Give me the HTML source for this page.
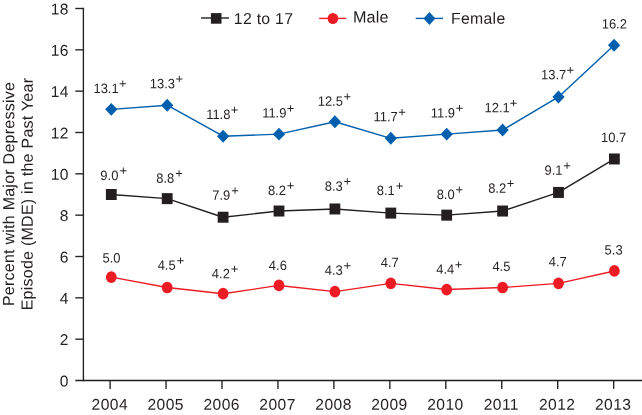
<!DOCTYPE html>
<html lang="en"><head><meta charset="utf-8"><title>Percent with Major Depressive Episode (MDE) in the Past Year</title>
<style>html,body{margin:0;padding:0;background:#fff;}body{width:642px;height:415px;overflow:hidden;}svg{display:block;font-family:"Liberation Sans",sans-serif;}</style></head><body>
<svg width="642" height="415" viewBox="0 0 642 415">
<rect width="642" height="415" fill="#fff"/>
<g stroke="#231f20" stroke-width="1.35" fill="none">
<path d="M83.4 7.84V381.15"/>
<path d="M75.3 380.50H642"/>
<path d="M75.3 339.17H83.3"/>
<path d="M75.3 297.83H83.3"/>
<path d="M75.3 256.50H83.3"/>
<path d="M75.3 215.16H83.3"/>
<path d="M75.3 173.83H83.3"/>
<path d="M75.3 132.50H83.3"/>
<path d="M75.3 91.16H83.3"/>
<path d="M75.3 49.83H83.3"/>
<path d="M75.3 8.49H83.3"/>
<path d="M110.10 380.50V388.9"/>
<path d="M166.05 380.50V388.9"/>
<path d="M222.00 380.50V388.9"/>
<path d="M277.95 380.50V388.9"/>
<path d="M333.90 380.50V388.9"/>
<path d="M389.85 380.50V388.9"/>
<path d="M445.80 380.50V388.9"/>
<path d="M501.75 380.50V388.9"/>
<path d="M557.70 380.50V388.9"/>
<path d="M613.65 380.50V388.9"/>
</g>
<g fill="#231f20" font-size="15.6" letter-spacing="0.4" text-anchor="end">
<text transform="translate(68.8 386.40) rotate(0.03)">0</text>
<text transform="translate(68.8 345.07) rotate(0.03)">2</text>
<text transform="translate(68.8 303.73) rotate(0.03)">4</text>
<text transform="translate(68.8 262.40) rotate(0.03)">6</text>
<text transform="translate(68.8 221.06) rotate(0.03)">8</text>
<text transform="translate(68.8 179.73) rotate(0.03)">10</text>
<text transform="translate(68.8 138.40) rotate(0.03)">12</text>
<text transform="translate(68.8 97.06) rotate(0.03)">14</text>
<text transform="translate(68.8 55.73) rotate(0.03)">16</text>
<text transform="translate(68.8 14.39) rotate(0.03)">18</text>
</g>
<g fill="#231f20" font-size="15.6" letter-spacing="0.45" text-anchor="middle">
<text transform="translate(109.80 409.8) rotate(0.03)">2004</text>
<text transform="translate(165.73 409.8) rotate(0.03)">2005</text>
<text transform="translate(221.66 409.8) rotate(0.03)">2006</text>
<text transform="translate(277.59 409.8) rotate(0.03)">2007</text>
<text transform="translate(333.52 409.8) rotate(0.03)">2008</text>
<text transform="translate(389.45 409.8) rotate(0.03)">2009</text>
<text transform="translate(445.38 409.8) rotate(0.03)">2010</text>
<text transform="translate(501.31 409.8) rotate(0.03)">2011</text>
<text transform="translate(557.24 409.8) rotate(0.03)">2012</text>
<text transform="translate(613.17 409.8) rotate(0.03)">2013</text>
</g>
<g fill="#231f20" font-size="16" letter-spacing="0.25">
<text transform="translate(14.1 306.1) rotate(-89.97)">Percent with Major Depressive</text>
<text transform="translate(32.6 310.3) rotate(-89.97)">Episode (MDE) in the Past Year</text>
</g>
<polyline points="111.30,109.36 167.20,105.23 223.10,136.23 279.00,134.16 334.90,121.76 390.80,138.30 446.70,134.16 502.60,130.03 558.50,96.96 614.10,45.29" fill="none" stroke="#0060ae" stroke-width="1.4" stroke-linejoin="round"/>
<polyline points="111.30,194.50 167.20,198.63 223.10,217.23 279.00,211.03 334.90,208.96 390.80,213.10 446.70,215.16 502.60,211.03 558.50,192.43 614.40,158.96" fill="none" stroke="#231f20" stroke-width="1.4" stroke-linejoin="round"/>
<polyline points="111.30,277.16 167.20,287.50 223.10,293.70 279.00,285.43 334.90,291.63 390.80,283.37 446.70,289.57 502.60,287.50 558.50,283.37 614.40,270.96" fill="none" stroke="#ed1c24" stroke-width="1.4" stroke-linejoin="round"/>
<path d="M111.30 102.91L117.45 109.36L111.30 115.81L105.15 109.36Z" fill="#0060ae"/>
<path d="M167.20 98.78L173.35 105.23L167.20 111.68L161.05 105.23Z" fill="#0060ae"/>
<path d="M223.10 129.78L229.25 136.23L223.10 142.68L216.95 136.23Z" fill="#0060ae"/>
<path d="M279.00 127.71L285.15 134.16L279.00 140.61L272.85 134.16Z" fill="#0060ae"/>
<path d="M334.90 115.31L341.05 121.76L334.90 128.21L328.75 121.76Z" fill="#0060ae"/>
<path d="M390.80 131.85L396.95 138.30L390.80 144.75L384.65 138.30Z" fill="#0060ae"/>
<path d="M446.70 127.71L452.85 134.16L446.70 140.61L440.55 134.16Z" fill="#0060ae"/>
<path d="M502.60 123.58L508.75 130.03L502.60 136.48L496.45 130.03Z" fill="#0060ae"/>
<path d="M558.50 90.51L564.65 96.96L558.50 103.41L552.35 96.96Z" fill="#0060ae"/>
<path d="M614.10 38.84L620.25 45.29L614.10 51.74L607.95 45.29Z" fill="#0060ae"/>
<rect x="105.90" y="189.00" width="10.8" height="11.0" fill="#231f20"/>
<rect x="161.80" y="193.13" width="10.8" height="11.0" fill="#231f20"/>
<rect x="217.70" y="211.73" width="10.8" height="11.0" fill="#231f20"/>
<rect x="273.60" y="205.53" width="10.8" height="11.0" fill="#231f20"/>
<rect x="329.50" y="203.46" width="10.8" height="11.0" fill="#231f20"/>
<rect x="385.40" y="207.60" width="10.8" height="11.0" fill="#231f20"/>
<rect x="441.30" y="209.66" width="10.8" height="11.0" fill="#231f20"/>
<rect x="497.20" y="205.53" width="10.8" height="11.0" fill="#231f20"/>
<rect x="553.10" y="186.93" width="10.8" height="11.0" fill="#231f20"/>
<rect x="609.00" y="153.46" width="10.8" height="11.0" fill="#231f20"/>
<ellipse cx="111.30" cy="277.16" rx="5.4" ry="5.85" fill="#ed1c24"/>
<ellipse cx="167.20" cy="287.50" rx="5.4" ry="5.85" fill="#ed1c24"/>
<ellipse cx="223.10" cy="293.70" rx="5.4" ry="5.85" fill="#ed1c24"/>
<ellipse cx="279.00" cy="285.43" rx="5.4" ry="5.85" fill="#ed1c24"/>
<ellipse cx="334.90" cy="291.63" rx="5.4" ry="5.85" fill="#ed1c24"/>
<ellipse cx="390.80" cy="283.37" rx="5.4" ry="5.85" fill="#ed1c24"/>
<ellipse cx="446.70" cy="289.57" rx="5.4" ry="5.85" fill="#ed1c24"/>
<ellipse cx="502.60" cy="287.50" rx="5.4" ry="5.85" fill="#ed1c24"/>
<ellipse cx="558.50" cy="283.37" rx="5.4" ry="5.85" fill="#ed1c24"/>
<ellipse cx="614.40" cy="270.96" rx="5.4" ry="5.85" fill="#ed1c24"/>
<g fill="#231f20" font-size="13.3">
<text transform="translate(106.05 93.00) rotate(0.03) scale(0.975 1.015)" text-anchor="middle">13.1</text>
<text transform="translate(119.10 88.10) rotate(0.03)" font-size="13.0">+</text>
<text transform="translate(162.40 88.15) rotate(0.03) scale(0.975 1.015)" text-anchor="middle">13.3</text>
<text transform="translate(175.60 83.25) rotate(0.03)" font-size="13.0">+</text>
<text transform="translate(218.30 119.10) rotate(0.03) scale(0.975 1.015)" text-anchor="middle">11.8</text>
<text transform="translate(230.70 114.20) rotate(0.03)" font-size="13.0">+</text>
<text transform="translate(274.30 117.55) rotate(0.03) scale(0.975 1.015)" text-anchor="middle">11.9</text>
<text transform="translate(286.80 112.65) rotate(0.03)" font-size="13.0">+</text>
<text transform="translate(330.30 105.85) rotate(0.03) scale(0.975 1.015)" text-anchor="middle">12.5</text>
<text transform="translate(343.50 100.95) rotate(0.03)" font-size="13.0">+</text>
<text transform="translate(385.70 121.35) rotate(0.03) scale(0.975 1.015)" text-anchor="middle">11.7</text>
<text transform="translate(398.20 116.45) rotate(0.03)" font-size="13.0">+</text>
<text transform="translate(442.90 117.40) rotate(0.03) scale(0.975 1.015)" text-anchor="middle">11.9</text>
<text transform="translate(455.70 112.50) rotate(0.03)" font-size="13.0">+</text>
<text transform="translate(497.15 112.30) rotate(0.03) scale(0.975 1.015)" text-anchor="middle">12.1</text>
<text transform="translate(509.80 107.40) rotate(0.03)" font-size="13.0">+</text>
<text transform="translate(553.70 79.30) rotate(0.03) scale(0.975 1.015)" text-anchor="middle">13.7</text>
<text transform="translate(566.50 74.40) rotate(0.03)" font-size="13.0">+</text>
<text transform="translate(614.30 28.50) rotate(0.03) scale(0.975 1.015)" text-anchor="middle">16.2</text>
<text transform="translate(109.35 179.90) rotate(0.03) scale(0.975 1.015)" text-anchor="middle">9.0</text>
<text transform="translate(119.40 175.00) rotate(0.03)" font-size="13.0">+</text>
<text transform="translate(165.30 182.70) rotate(0.03) scale(0.975 1.015)" text-anchor="middle">8.8</text>
<text transform="translate(175.20 177.80) rotate(0.03)" font-size="13.0">+</text>
<text transform="translate(221.25 199.80) rotate(0.03) scale(0.975 1.015)" text-anchor="middle">7.9</text>
<text transform="translate(231.20 194.90) rotate(0.03)" font-size="13.0">+</text>
<text transform="translate(276.90 194.90) rotate(0.03) scale(0.975 1.015)" text-anchor="middle">8.2</text>
<text transform="translate(286.80 190.00) rotate(0.03)" font-size="13.0">+</text>
<text transform="translate(333.70 190.70) rotate(0.03) scale(0.975 1.015)" text-anchor="middle">8.3</text>
<text transform="translate(343.50 185.80) rotate(0.03)" font-size="13.0">+</text>
<text transform="translate(385.80 195.10) rotate(0.03) scale(0.975 1.015)" text-anchor="middle">8.1</text>
<text transform="translate(395.70 190.20) rotate(0.03)" font-size="13.0">+</text>
<text transform="translate(445.65 199.00) rotate(0.03) scale(0.975 1.015)" text-anchor="middle">8.0</text>
<text transform="translate(455.60 194.10) rotate(0.03)" font-size="13.0">+</text>
<text transform="translate(497.15 192.70) rotate(0.03) scale(0.975 1.015)" text-anchor="middle">8.2</text>
<text transform="translate(506.80 187.80) rotate(0.03)" font-size="13.0">+</text>
<text transform="translate(553.55 174.80) rotate(0.03) scale(0.975 1.015)" text-anchor="middle">9.1</text>
<text transform="translate(563.20 169.90) rotate(0.03)" font-size="13.0">+</text>
<text transform="translate(613.70 141.90) rotate(0.03) scale(0.975 1.015)" text-anchor="middle">10.7</text>
<text transform="translate(111.55 262.55) rotate(0.03) scale(0.975 1.015)" text-anchor="middle">5.0</text>
<text transform="translate(166.65 269.80) rotate(0.03) scale(0.975 1.015)" text-anchor="middle">4.5</text>
<text transform="translate(176.80 264.90) rotate(0.03)" font-size="13.0">+</text>
<text transform="translate(220.85 278.20) rotate(0.03) scale(0.975 1.015)" text-anchor="middle">4.2</text>
<text transform="translate(230.70 273.30) rotate(0.03)" font-size="13.0">+</text>
<text transform="translate(277.85 270.10) rotate(0.03) scale(0.975 1.015)" text-anchor="middle">4.6</text>
<text transform="translate(333.70 274.80) rotate(0.03) scale(0.975 1.015)" text-anchor="middle">4.3</text>
<text transform="translate(343.50 269.90) rotate(0.03)" font-size="13.0">+</text>
<text transform="translate(389.80 266.90) rotate(0.03) scale(0.975 1.015)" text-anchor="middle">4.7</text>
<text transform="translate(445.25 273.80) rotate(0.03) scale(0.975 1.015)" text-anchor="middle">4.4</text>
<text transform="translate(454.80 268.90) rotate(0.03)" font-size="13.0">+</text>
<text transform="translate(501.40 271.00) rotate(0.03) scale(0.975 1.015)" text-anchor="middle">4.5</text>
<text transform="translate(557.70 266.30) rotate(0.03) scale(0.975 1.015)" text-anchor="middle">4.7</text>
<text transform="translate(613.60 254.40) rotate(0.03) scale(0.975 1.015)" text-anchor="middle">5.3</text>
</g>
<path d="M201 18H229" stroke="#231f20" stroke-width="1.4"/><rect x="210.9" y="13.1" width="10.6" height="10.6" fill="#231f20"/>
<path d="M319.2 18.4H346.3" stroke="#ed1c24" stroke-width="1.4"/><ellipse cx="332.9" cy="18.5" rx="5.3" ry="5.5" fill="#ed1c24"/>
<path d="M415.7 18.4H443" stroke="#0060ae" stroke-width="1.4"/><path d="M429.45 12L435.4 18.5L429.45 25.1L423.5 18.5Z" fill="#0060ae"/>
<g fill="#231f20" font-size="15.8" letter-spacing="0.3">
<text transform="translate(233.8 23.9) rotate(0.03)">12 to 17</text><text transform="translate(352.9 22.5) rotate(0.03)" font-size="16.2" letter-spacing="0.2">Male</text><text transform="translate(451 23.7) rotate(0.03)">Female</text>
</g>
</svg></body></html>
